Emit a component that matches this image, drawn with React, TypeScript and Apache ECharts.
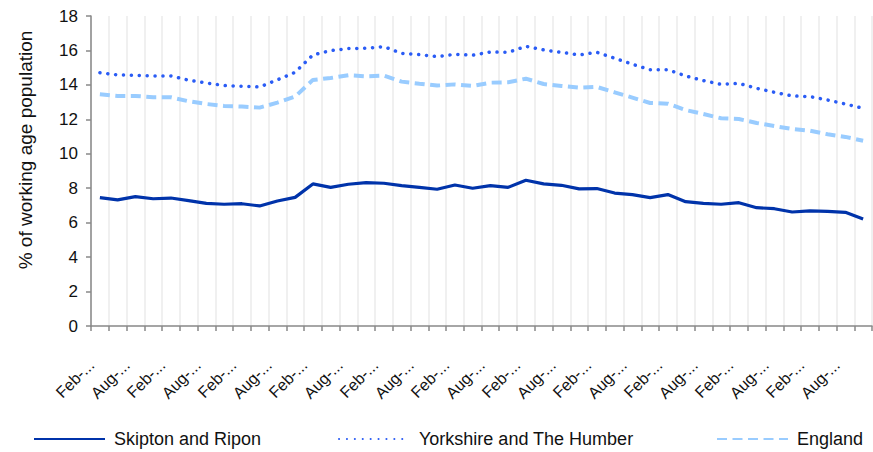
import React, { useEffect, useRef } from "react";
import * as echarts from "echarts";

const monthNames = ["Feb", "May", "Aug", "Nov"];
const startYear = 2006;
const categories: string[] = [];
for (let i = 0; i < 44; i++) {
  categories.push(monthNames[i % 4] + "-" + String(startYear + Math.floor(i / 4)));
}

const skipton = [
  7.45, 7.32, 7.51, 7.39, 7.43, 7.28, 7.12, 7.07, 7.10, 6.97,
  7.26, 7.47, 8.25, 8.05, 8.23, 8.32, 8.29, 8.15, 8.05, 7.94,
  8.19, 8.00, 8.15, 8.05, 8.46, 8.25, 8.17, 7.96, 7.98, 7.72,
  7.63, 7.45, 7.63, 7.22, 7.12, 7.07, 7.16, 6.87, 6.81, 6.62,
  6.68, 6.66, 6.60, 6.21,
];

const yorkshire = [
  14.71, 14.58, 14.56, 14.52, 14.52, 14.27, 14.11, 13.96, 13.92, 13.88,
  14.29, 14.73, 15.74, 15.99, 16.11, 16.13, 16.22, 15.83, 15.76, 15.64,
  15.78, 15.72, 15.91, 15.89, 16.24, 16.03, 15.89, 15.74, 15.89, 15.55,
  15.20, 14.88, 14.88, 14.52, 14.25, 14.03, 14.09, 13.80, 13.57, 13.36,
  13.32, 13.12, 12.89, 12.64,
];

const england = [
  13.45, 13.36, 13.36, 13.28, 13.28, 13.05, 12.89, 12.78, 12.74, 12.68,
  12.97, 13.32, 14.29, 14.40, 14.56, 14.50, 14.54, 14.19, 14.07, 13.96,
  14.03, 13.94, 14.13, 14.15, 14.36, 14.05, 13.94, 13.84, 13.88, 13.57,
  13.26, 12.95, 12.91, 12.54, 12.31, 12.06, 12.02, 11.79, 11.61, 11.44,
  11.34, 11.13, 10.98, 10.76,
];

const seriesNames = ["Skipton and Ripon", "Yorkshire and The Humber", "England"];
const yTicks = { min: 0, max: 18, interval: 2 };
const yAxisTitle = "% of working age population";

const FONT = "Liberation Sans, Arial, sans-serif";

export default function App() {
  const ref = useRef<HTMLDivElement>(null);
  useEffect(() => {
    if (!ref.current) return;
    const chart = echarts.init(ref.current, null, { renderer: "svg" });
    const legendCommon = {
      top: 430,
      padding: 0,
      itemWidth: 71,
      itemHeight: 10,
      itemGap: 10,
      itemStyle: { opacity: 0 },
      textStyle: { fontFamily: FONT, fontSize: 18, color: "#111", padding: [0, 0, 0, 4] },
    };
    chart.setOption({
      animation: false,
      backgroundColor: "#fff",
      grid: { left: 91, right: 1, top: 16, bottom: 126, containLabel: false },
      legend: [
        { ...legendCommon, left: 33, data: [seriesNames[0]] },
        { ...legendCommon, left: 338, data: [seriesNames[1]] },
        { ...legendCommon, left: 716, data: [seriesNames[2]] },
      ],
      graphic: [
        {
          type: "text",
          x: 25,
          y: 150,
          rotation: Math.PI / 2,
          style: {
            text: yAxisTitle,
            fontFamily: FONT,
            fontSize: 19,
            fill: "#111",
            align: "center",
            verticalAlign: "middle",
          },
        },
      ],
      xAxis: {
        type: "category",
        data: categories,
        boundaryGap: true,
        axisLine: { lineStyle: { color: "#888", width: 1.5 } },
        axisTick: { show: true, interval: 0, length: 5, lineStyle: { color: "#888", width: 1.5 } },
        splitLine: { show: true, interval: 0, lineStyle: { color: "#ebebeb", width: 1.5 } },
        axisLabel: {
          interval: 1,
          rotate: 45,
          margin: 28,
          padding: [0, 12, 0, 0],
          fontFamily: FONT,
          fontSize: 16,
          color: "#111",
          formatter: (v: string) => v.slice(0, 4) + "...",
        },
      },
      yAxis: {
        type: "value",
        min: yTicks.min,
        max: yTicks.max,
        interval: yTicks.interval,
        axisLine: { show: true, lineStyle: { color: "#888", width: 1.5 } },
        axisTick: { show: true, length: 5, lineStyle: { color: "#888", width: 1.5 } },
        splitLine: { show: false },
        axisLabel: { fontFamily: FONT, fontSize: 17, color: "#111", margin: 13 },
      },
      series: [
        {
          name: seriesNames[0],
          type: "line",
          data: skipton,
          symbol: "none",
          color: "#0033aa",
          lineStyle: { color: "#0033aa", width: 3.2 },
        },
        {
          name: seriesNames[1],
          type: "line",
          data: yorkshire,
          symbol: "none",
          color: "#2a5cf5",
          lineStyle: { color: "#2a5cf5", width: 3.5, type: [0.1, 7.8], cap: "round" },
        },
        {
          name: seriesNames[2],
          type: "line",
          data: england,
          symbol: "none",
          color: "#99ccff",
          lineStyle: { color: "#99ccff", width: 4, type: [10, 5.5], cap: "butt" },
        },
      ],
    });
    return () => chart.dispose();
  }, []);
  return (
    <div
      ref={ref}
      style={{ position: "fixed", left: 0, top: 0, width: 873, height: 452 }}
    />
  );
}
